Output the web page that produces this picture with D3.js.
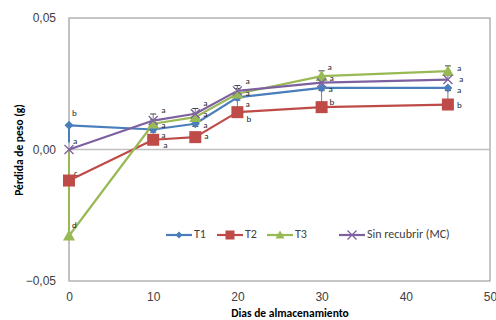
<!DOCTYPE html>
<html><head><meta charset="utf-8">
<script src="https://cdn.jsdelivr.net/npm/d3@7"></script>
<style>body{margin:0;background:#fff}svg{display:block;font-family:Calibri,Carlito,"Liberation Sans",Arial,sans-serif}</style>
</head><body><svg id="c" width="496" height="320"></svg>
<script>
const days = [0, 10, 15, 20, 30, 45];
const seriesNames = ["T1", "T2", "T3", "Sin recubrir (MC)"];
const t1 = [0.0092, 0.0076, 0.0098, 0.0198, 0.0234, 0.0234];
const t2 = [-0.0118, 0.0037, 0.0047, 0.0142, 0.0161, 0.0171];
const t3 = [-0.0328, 0.0098, 0.0123, 0.0212, 0.0279, 0.0298];
const mc = [0.0, 0.0110, 0.0136, 0.0223, 0.0254, 0.0266];
const errT1 = [0.0065, 0.0010, 0.0010, 0.0010, 0.0010, 0.0010];
const errT2 = [0.0, 0.0, 0.0, 0.0056, 0.0073, 0.0063];
const errT3 = [0.0328, 0.0015, 0.0015, 0.0020, 0.0020, 0.0020];
const errMC = [0.0, 0.0025, 0.0020, 0.0020, 0.0015, 0.0015];
const letT1 = ["b", "a", "a", "a", "a", "a"];
const letT2 = ["c", "a", "a", "b", "b", "b"];
const letT3 = ["d", "a", "a", "a", "a", "a"];
const letMC = ["a", "a", "a", "a", "a", "a"];
const xTicks = [0, 10, 20, 30, 40, 50];
const yTicks = [-0.05, 0, 0.05];

const colors = ["#4a7ebb", "#be4b48", "#98b954", "#7d60a0"];
const markers = ["diamond", "square", "triangle", "x"];
const series = [
  {name: seriesNames[0], values: t1, err: errT1, dir: -1, letters: letT1},
  {name: seriesNames[1], values: t2, err: errT2, dir: 1, letters: letT2},
  {name: seriesNames[2], values: t3, err: errT3, dir: 1, letters: letT3},
  {name: seriesNames[3], values: mc, err: errMC, dir: 1, letters: letMC}
];
// label offsets (px) per series, per point [dx, dy]
const labelOff = [
  [[3,-11],[8,6],[8,2],[8,7],[7,2],[9,3]],
  [[5,-7],[10,6],[9,0],[9,8],[8,-4],[9,1]],
  [[3,-10],[8,2],[8,-2],[8,0.5],[6,-8],[9,-2]],
  [[4,-8],[8,-10],[8,-10],[8,-9],[8,-4],[11,0]]
];

const svg = d3.select("#c");
const L = 69, R = 490, T = 18, B = 281;
const x = d3.scaleLinear().domain([0, 50]).range([L, R]);
const y = d3.scaleLinear().domain([-0.05, 0.05]).range([B, T]);
const fmt = v => d3.format(".2f")(v).replace(".", ",");

svg.append("rect").attr("x", L).attr("y", T).attr("width", R - L).attr("height", B - T)
  .attr("fill", "none").attr("stroke", "#8c8c8c").attr("stroke-width", 1);
svg.append("line").attr("x1", L).attr("x2", L).attr("y1", T).attr("y2", B).attr("stroke", "#bfbfbf").attr("stroke-width", 1.5);
svg.append("line").attr("x1", L).attr("x2", R).attr("y1", y(0)).attr("y2", y(0)).attr("stroke", "#bfbfbf").attr("stroke-width", 1.5);

const yAxis = d3.axisLeft(y).tickValues(yTicks).tickFormat(fmt).tickSize(0).tickPadding(13);
const ya = svg.append("g").attr("transform", `translate(${L},0)`).call(yAxis);
ya.select(".domain").remove();
ya.selectAll("text").attr("font-size", 12).attr("fill", "#404040");
const xAxis = d3.axisBottom(x).tickValues(xTicks).tickFormat(d3.format("d")).tickSize(0).tickPadding(11);
const xa = svg.append("g").attr("transform", `translate(0,${B})`).call(xAxis);
xa.select(".domain").remove();
xa.selectAll("text").attr("font-size", 12).attr("fill", "#404040");

svg.append("text").attr("x", 290).attr("y", 317).attr("text-anchor", "middle")
  .attr("font-size", 11.5).attr("font-weight", "bold").attr("fill", "#000").text("Dias de almacenamiento");
svg.append("text").attr("transform", "translate(23,150) rotate(-90)").attr("text-anchor", "middle")
  .attr("font-size", 11.5).attr("font-weight", "bold").attr("fill", "#000").text("Pérdida de peso (g)");

function drawMarker(g, type, cx, cy, color, s) {
  if (type === "diamond") {
    g.append("path").attr("d", `M${cx},${cy - s}L${cx + s},${cy}L${cx},${cy + s}L${cx - s},${cy}Z`).attr("fill", color);
  } else if (type === "square") {
    g.append("rect").attr("x", cx - s).attr("y", cy - s).attr("width", 2 * s).attr("height", 2 * s).attr("fill", color);
  } else if (type === "triangle") {
    g.append("path").attr("d", `M${cx},${cy - s}L${cx + s},${cy + s * 0.8}L${cx - s},${cy + s * 0.8}Z`).attr("fill", color);
  } else {
    g.append("path").attr("d", `M${cx - s},${cy - s}L${cx + s},${cy + s}M${cx + s},${cy - s}L${cx - s},${cy + s}`)
      .attr("stroke", color).attr("stroke-width", 1.3).attr("fill", "none");
  }
}
const sizes = [4.5, 6, 6, 4.5];

const line = d3.line().x((d, i) => x(days[i])).y(d => y(d));
series.forEach((s, si) => {
  const g = svg.append("g");
  s.values.forEach((v, i) => {
    const e = s.err[i];
    if (!e) return;
    const y0 = y(v), y1 = y(v + s.dir * e);
    const col = i === 0 ? colors[si] : "#7f7f7f";
    g.append("line").attr("x1", x(days[i])).attr("x2", x(days[i])).attr("y1", y0).attr("y2", y1)
      .attr("stroke", col).attr("stroke-width", i === 0 ? 2 : 1);
    if (i > 0) g.append("line").attr("x1", x(days[i]) - 3).attr("x2", x(days[i]) + 3).attr("y1", y1).attr("y2", y1)
      .attr("stroke", "#404040").attr("stroke-width", 1);
  });
});
series.forEach((s, si) => {
  svg.append("path").datum(s.values).attr("d", line).attr("fill", "none")
    .attr("stroke", colors[si]).attr("stroke-width", 2.2).attr("stroke-linejoin", "round");
});
series.forEach((s, si) => {
  const g = svg.append("g");
  s.values.forEach((v, i) => drawMarker(g, markers[si], x(days[i]), y(v), colors[si], sizes[si]));
});
series.forEach((s, si) => {
  s.letters.forEach((l, i) => {
    const o = labelOff[si][i];
    svg.append("text").attr("x", x(days[i]) + o[0]).attr("y", y(s.values[i]) + o[1])
      .attr("dominant-baseline", "middle").attr("font-size", 9).attr("fill", "#262626").text(l);
  });
});

const legX = [166, 217, 267, 339];
const legY = 235;
series.forEach((s, si) => {
  const g = svg.append("g");
  g.append("line").attr("x1", legX[si]).attr("x2", legX[si] + 26).attr("y1", legY).attr("y2", legY)
    .attr("stroke", colors[si]).attr("stroke-width", 2.2);
  drawMarker(g, markers[si], legX[si] + 13, legY, colors[si], si === 0 ? 3.5 : 4.5);
  g.append("text").attr("x", legX[si] + 28).attr("y", legY).attr("dominant-baseline", "middle")
    .attr("font-size", 12).attr("fill", "#404040").text(s.name);
});
</script></body></html>
